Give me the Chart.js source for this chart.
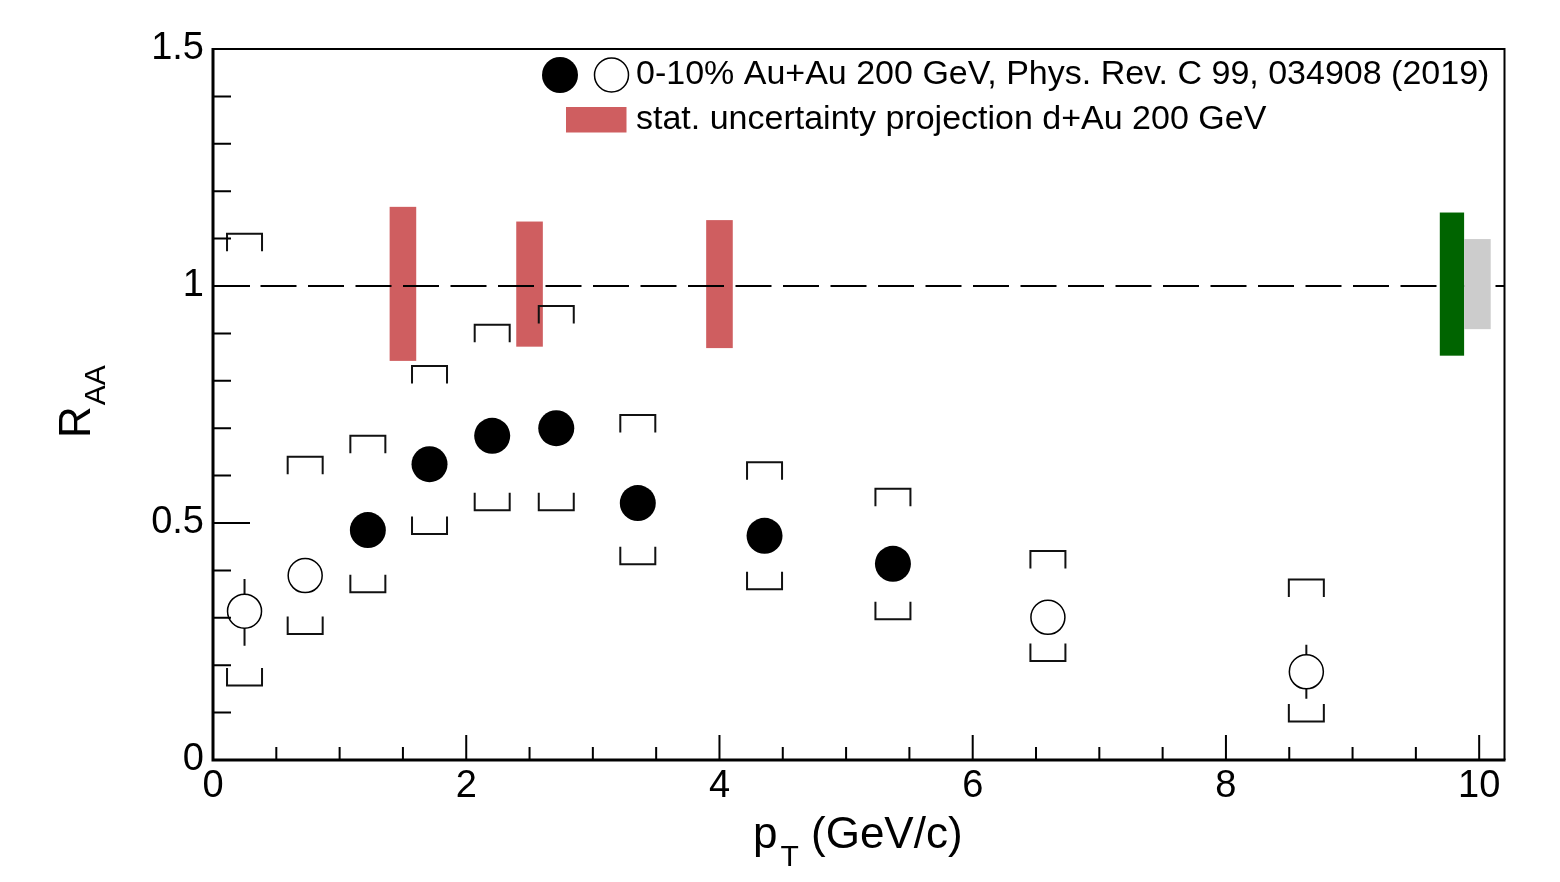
<!DOCTYPE html>
<html>
<head>
<meta charset="utf-8">
<script src="https://cdn.jsdelivr.net/npm/chart.js@4.4.1/dist/chart.umd.min.js"></script>
<style>
  html, body { margin: 0; padding: 0; background: #fff; }
  canvas { display: block; }
</style>
</head>
<body>
<canvas id="c" width="1560" height="882"></canvas>
<script>
// ---------------- data ----------------
const pT       = [0.249, 0.728, 1.223, 1.710, 2.205, 2.711, 3.355, 4.356, 5.370, 6.594, 8.635];
const raa      = [0.314, 0.389, 0.485, 0.624, 0.684, 0.700, 0.542, 0.473, 0.414, 0.301, 0.186];
const statUp   = [0.068, 0.030, 0.030, 0.030, 0.030, 0.030, 0.030, 0.030, 0.030, 0.030, 0.057];
const statDown = [0.073, 0.030, 0.030, 0.030, 0.030, 0.030, 0.030, 0.030, 0.030, 0.030, 0.057];
const sysHigh  = [1.110, 0.640, 0.684, 0.831, 0.918, 0.958, 0.728, 0.628, 0.572, 0.441, 0.381];
const sysLow   = [0.157, 0.266, 0.354, 0.477, 0.527, 0.527, 0.413, 0.360, 0.297, 0.209, 0.081];
const isFilled = [false, false, true, true, true, true, true, true, true, false, false];

// d+Au projection (stat. uncertainty) boxes
const projPt   = [1.50, 2.50, 4.00];
const projLow  = [0.842, 0.872, 0.869];
const projHigh = [1.167, 1.136, 1.139];
const projHalfWidth = 0.105;

// normalisation boxes at the right edge
const normXLow  = [9.689, 9.881];
const normXHigh = [9.881, 10.091];
const normLow   = [0.853, 0.909];
const normHigh  = [1.155, 1.099];

// axis ticks
const xMajorTicks = [0, 2, 4, 6, 8, 10];
const xMinorTicks = [0.5, 1, 1.5, 2.5, 3, 3.5, 4.5, 5, 5.5, 6.5, 7, 7.5, 8.5, 9, 9.5];
const yMajorTicks = [0, 0.5, 1, 1.5];
const yMinorTicks = [0.1, 0.2, 0.3, 0.4, 0.6, 0.7, 0.8, 0.9, 1.1, 1.2, 1.3, 1.4];
const xLabelValues = [0, 2, 4, 6, 8, 10];
const yLabelValues = [0, 0.5, 1, 1.5];
const referenceLine = 1.0;

const legendText1 = '0-10% Au+Au 200 GeV, Phys. Rev. C 99, 034908 (2019)';
const legendText2 = 'stat. uncertainty projection d+Au 200 GeV';

// ---------------- styles ----------------
const FONT = '"Liberation Sans", Arial, Helvetica, sans-serif';
const RED = '#cf5e60';
const GREEN = '#006400';
const GREY = '#cccccc';

const filledPts = [], openPts = [];
pT.forEach((x, i) => (isFilled[i] ? filledPts : openPts).push({ x: x, y: raa[i] }));

const drawPlugin = {
  id: 'rootStyle',
  beforeDatasetsDraw(chart) {
    const ctx = chart.ctx, xs = chart.scales.x, ys = chart.scales.y;
    const a = chart.chartArea;
    ctx.save();
    // projection boxes
    ctx.fillStyle = RED;
    projPt.forEach((p, i) => {
      const x1 = xs.getPixelForValue(p - projHalfWidth), x2 = xs.getPixelForValue(p + projHalfWidth);
      const y1 = ys.getPixelForValue(projHigh[i]), y2 = ys.getPixelForValue(projLow[i]);
      ctx.fillRect(x1, y1, x2 - x1, y2 - y1);
    });
    // dashed reference line
    ctx.strokeStyle = '#000';
    ctx.lineWidth = 2;
    ctx.setLineDash([36, 11.5]);
    const yl = ys.getPixelForValue(referenceLine);
    ctx.beginPath();
    ctx.moveTo(a.left, yl);
    ctx.lineTo(a.right, yl);
    ctx.stroke();
    ctx.setLineDash([]);
    // normalisation boxes
    [GREEN, GREY].forEach((col, i) => {
      const x1 = xs.getPixelForValue(normXLow[i]), x2 = xs.getPixelForValue(normXHigh[i]);
      const y1 = ys.getPixelForValue(normHigh[i]), y2 = ys.getPixelForValue(normLow[i]);
      ctx.fillStyle = col;
      ctx.fillRect(x1, y1, x2 - x1, y2 - y1);
    });
    // systematic brackets
    const hw = 17.5, leg = 17.5;
    ctx.strokeStyle = '#111';
    ctx.lineWidth = 2;
    pT.forEach((p, i) => {
      const xc = xs.getPixelForValue(p);
      const yt = ys.getPixelForValue(sysHigh[i]);
      const yb = ys.getPixelForValue(sysLow[i]);
      ctx.beginPath();
      ctx.moveTo(xc - hw, yt + leg); ctx.lineTo(xc - hw, yt); ctx.lineTo(xc + hw, yt); ctx.lineTo(xc + hw, yt + leg);
      ctx.moveTo(xc - hw, yb - leg); ctx.lineTo(xc - hw, yb); ctx.lineTo(xc + hw, yb); ctx.lineTo(xc + hw, yb - leg);
      ctx.stroke();
    });
    // statistical error bars (drawn outside the marker only)
    pT.forEach((p, i) => {
      const xc = xs.getPixelForValue(p);
      const yc = ys.getPixelForValue(raa[i]);
      const r = isFilled[i] ? 18 : 17;
      const yu = ys.getPixelForValue(raa[i] + statUp[i]);
      const yd = ys.getPixelForValue(raa[i] - statDown[i]);
      ctx.beginPath();
      if (yc - yu > r) { ctx.moveTo(xc, yu); ctx.lineTo(xc, yc - r); }
      if (yd - yc > r) { ctx.moveTo(xc, yc + r); ctx.lineTo(xc, yd); }
      ctx.stroke();
    });
    ctx.restore();
  },
  afterDraw(chart) {
    const ctx = chart.ctx, xs = chart.scales.x, ys = chart.scales.y;
    const a = chart.chartArea;
    ctx.save();
    ctx.strokeStyle = '#000';
    // frame
    ctx.lineWidth = 2;
    ctx.beginPath();
    ctx.moveTo(a.left, a.top); ctx.lineTo(a.right, a.top); ctx.lineTo(a.right, a.bottom);
    ctx.stroke();
    ctx.lineWidth = 3;
    ctx.beginPath();
    ctx.moveTo(a.left, a.top - 1); ctx.lineTo(a.left, a.bottom); ctx.lineTo(a.right + 1, a.bottom);
    ctx.stroke();
    // ticks (inside)
    ctx.lineWidth = 2;
    ctx.beginPath();
    xMajorTicks.forEach(v => { const x = xs.getPixelForValue(v); ctx.moveTo(x, a.bottom); ctx.lineTo(x, a.bottom - 25); });
    xMinorTicks.forEach(v => { const x = xs.getPixelForValue(v); ctx.moveTo(x, a.bottom); ctx.lineTo(x, a.bottom - 13); });
    yMajorTicks.forEach(v => { const y = ys.getPixelForValue(v); ctx.moveTo(a.left, y); ctx.lineTo(a.left + 37, y); });
    yMinorTicks.forEach(v => { const y = ys.getPixelForValue(v); ctx.moveTo(a.left, y); ctx.lineTo(a.left + 18, y); });
    ctx.stroke();

    // legend
    ctx.fillStyle = '#000';
    ctx.beginPath(); ctx.arc(560, 75, 18, 0, 2 * Math.PI); ctx.fill();
    ctx.fillStyle = '#fff';
    ctx.lineWidth = 1.5;
    ctx.beginPath(); ctx.arc(611.5, 75, 17, 0, 2 * Math.PI); ctx.fill(); ctx.stroke();
    ctx.fillStyle = RED;
    ctx.fillRect(566, 107, 60.5, 25.5);
    ctx.fillStyle = '#000';
    ctx.font = '34px ' + FONT;
    ctx.textBaseline = 'alphabetic';
    ctx.textAlign = 'left';
    ctx.fillText(legendText1, 636, 84);
    ctx.fillText(legendText2, 636, 129);

    // x axis title: p_T (GeV/c)
    ctx.font = '44px ' + FONT;
    ctx.fillText('p', 753, 848);
    const pw = ctx.measureText('p').width;
    ctx.font = '30px ' + FONT;
    ctx.fillText('T', 753 + pw + 3, 866);
    ctx.font = '44px ' + FONT;
    ctx.fillText('(GeV/c)', 811, 848);

    // y axis title: R_AA (rotated)
    ctx.save();
    ctx.translate(90, 438);
    ctx.rotate(-Math.PI / 2);
    ctx.font = '44px ' + FONT;
    ctx.fillText('R', 0, 0);
    const rw = ctx.measureText('R').width;
    ctx.font = '30px ' + FONT;
    ctx.fillText('AA', rw + 1, 15);
    ctx.restore();

    ctx.restore();
  }
};

new Chart(document.getElementById('c'), {
  type: 'scatter',
  data: {
    datasets: [
      { label: 'filled', data: filledPts, pointStyle: 'circle', pointRadius: 18, pointHoverRadius: 18,
        pointBackgroundColor: '#000', pointBorderColor: '#000', pointBorderWidth: 0, showLine: false },
      { label: 'open', data: openPts, pointStyle: 'circle', pointRadius: 17, pointHoverRadius: 17,
        pointBackgroundColor: '#fff', pointBorderColor: '#000', pointBorderWidth: 1.5, showLine: false }
    ]
  },
  options: {
    responsive: false,
    animation: false,
    devicePixelRatio: 1,
    events: [],
    layout: { padding: { top: 49, right: 55.5, bottom: 0, left: 0 } },
    plugins: { legend: { display: false }, tooltip: { enabled: false } },
    scales: {
      x: {
        type: 'linear', min: 0, max: 10.2,
        afterBuildTicks: s => { s.ticks = xLabelValues.map(v => ({ value: v })); },
        afterFit: s => { s.height = 122; },
        grid: { display: false, drawTicks: false },
        border: { display: false },
        ticks: {
          autoSkip: false, maxRotation: 0, minRotation: 0, padding: 4,
          color: '#000', font: { family: FONT, size: 38 },
          callback: v => String(Math.round(v))
        }
      },
      y: {
        type: 'linear', min: 0, max: 1.5,
        afterBuildTicks: s => { s.ticks = yLabelValues.map(v => ({ value: v })); },
        afterFit: s => { s.width = 213; },
        grid: { display: false, drawTicks: false },
        border: { display: false },
        ticks: {
          autoSkip: false, padding: 9,
          color: '#000', font: { family: FONT, size: 38 },
          callback: v => String(Math.round(v * 10) / 10)
        }
      }
    }
  },
  plugins: [drawPlugin]
});
</script>
</body>
</html>
